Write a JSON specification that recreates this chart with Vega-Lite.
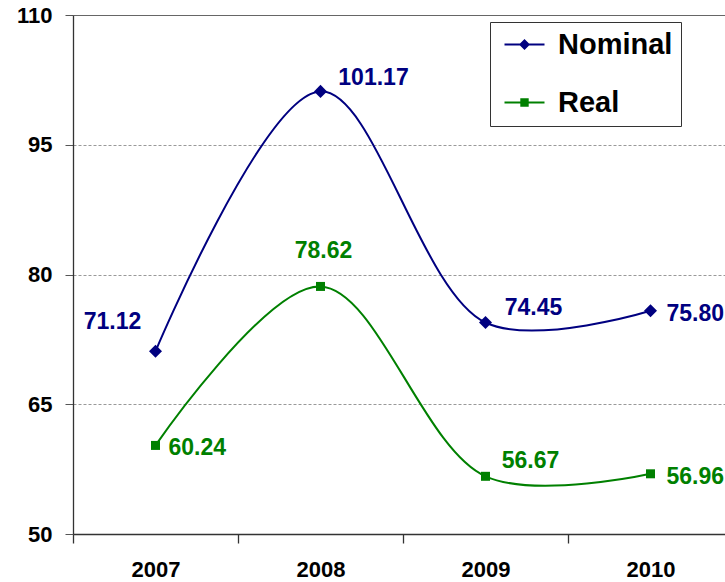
{
  "$schema": "https://vega.github.io/schema/vega-lite/v6.json",
  "width": 652,
  "height": 519,
  "autosize": {"type": "none"},
  "padding": {"left": 73, "top": 15, "right": 0, "bottom": 48},
  "background": "white",
  "config": {
    "view": {"stroke": null},
    "font": "Liberation Sans"
  },
  "data": {
    "values": [
      {"series": "Nominal", "year": "2007", "value": 71.12},
      {"series": "Nominal", "year": "2008", "value": 101.17},
      {"series": "Nominal", "year": "2009", "value": 74.45},
      {"series": "Nominal", "year": "2010", "value": 75.80},
      {"series": "Real", "year": "2007", "value": 60.24},
      {"series": "Real", "year": "2008", "value": 78.62},
      {"series": "Real", "year": "2009", "value": 56.67},
      {"series": "Real", "year": "2010", "value": 56.96}
    ]
  },
  "encoding": {
    "x": {
      "field": "year", "type": "ordinal",
      "scale": {"range": [0, 660], "paddingInner": 0, "paddingOuter": 0},
      "axis": {
        "title": null, "labelAngle": 0, "tickBand": "extent", "tickSize": 9,
        "labelPadding": 16, "domainColor": "#333", "tickColor": "#333",
        "labelFontSize": 22, "labelFontWeight": "bold", "labelColor": "black",
        "grid": false, "domainWidth": 1.3, "tickWidth": 1.3
      }
    },
    "y": {
      "field": "value", "type": "quantitative",
      "scale": {"domain": [50, 110], "nice": false, "zero": false},
      "axis": {
        "title": null, "values": [50, 65, 80, 95, 110], "tickSize": 8,
        "labelPadding": 13, "domainColor": "#333", "tickColor": "#555",
        "labelFontSize": 22, "labelFontWeight": "bold", "labelColor": "black",
        "grid": true, "gridColor": {"condition": {"test": "datum.value === 110", "value": "#666"}, "value": "#999"},
        "gridDash": {"condition": {"test": "datum.value === 110", "value": []}, "value": [3, 2]},
        "domainWidth": 1.3
      }
    }
  },
  "layer": [
    {
      "mark": {"type": "line", "interpolate": "catmull-rom", "strokeWidth": 2},
      "encoding": {
        "color": {"field": "series", "type": "nominal", "scale": {"domain": ["Nominal", "Real"], "range": ["#000080", "#008000"]}, "legend": null}
      }
    },
    {
      "transform": [{"filter": "datum.series === 'Nominal'"}],
      "mark": {"type": "point", "shape": "diamond", "filled": true, "size": 170, "opacity": 1, "color": "#000080"}
    },
    {
      "transform": [{"filter": "datum.series === 'Real'"}],
      "mark": {"type": "point", "shape": "square", "filled": true, "size": 81, "opacity": 1, "color": "#008000"}
    },
    {
      "mark": {"type": "point", "filled": true, "opacity": 0},
      "encoding": {
        "color": {
          "field": "series", "type": "nominal",
          "scale": {"domain": ["Nominal", "Real"], "range": ["#000080", "#008000"]},
          "legend": {
            "title": null, "orient": "none", "legendX": 417, "legendY": 7,
            "strokeColor": "#333", "fillColor": "white", "padding": 8,
            "symbolOffset": 12, "symbolSize": 400, "symbolOpacity": 1,
            "labelFontSize": 29, "labelFontWeight": "bold", "labelColor": "black",
            "labelOffset": 19, "rowPadding": 28, "labelExpr": "datum.label + '\u00a0\u00a0\u00a0\u00a0\u00a0\u00a0\u00a0\u00a0\u00a0\u00a0'",
            "labelLimit": 400
          }
        },
        "shape": {
          "field": "series", "type": "nominal",
          "scale": {"domain": ["Nominal", "Real"], "range": ["M-2,-0.1H2V0.1H-2Z M0,-0.55L0.55,0L0,0.55L-0.55,0Z", "M-2,-0.1H2V0.1H-2Z M-0.42,-0.42H0.42V0.42H-0.42Z"]},
          "legend": {
            "title": null, "orient": "none", "legendX": 417, "legendY": 7,
            "strokeColor": "#333", "fillColor": "white", "padding": 8,
            "symbolOffset": 12, "symbolSize": 400, "symbolOpacity": 1,
            "labelFontSize": 29, "labelFontWeight": "bold", "labelColor": "black",
            "labelOffset": 19, "rowPadding": 28, "labelExpr": "datum.label + '\u00a0\u00a0\u00a0\u00a0\u00a0\u00a0\u00a0\u00a0\u00a0\u00a0'",
            "labelLimit": 400
          }
        }
      }
    },
    {
      "transform": [{"filter": "datum.series === 'Nominal' && datum.year === '2007'"}],
      "mark": {"type": "text", "fontSize": 23, "fontWeight": "bold", "color": "#000080", "dx": -43, "dy": -29},
      "encoding": {"text": {"field": "value", "type": "quantitative", "format": ".2f"}}
    },
    {
      "transform": [{"filter": "datum.series === 'Nominal' && datum.year === '2008'"}],
      "mark": {"type": "text", "fontSize": 23, "fontWeight": "bold", "color": "#000080", "dx": 53, "dy": -13},
      "encoding": {"text": {"field": "value", "type": "quantitative", "format": ".2f"}}
    },
    {
      "transform": [{"filter": "datum.series === 'Nominal' && datum.year === '2009'"}],
      "mark": {"type": "text", "fontSize": 23, "fontWeight": "bold", "color": "#000080", "dx": 48, "dy": -15},
      "encoding": {"text": {"field": "value", "type": "quantitative", "format": ".2f"}}
    },
    {
      "transform": [{"filter": "datum.series === 'Nominal' && datum.year === '2010'"}],
      "mark": {"type": "text", "fontSize": 23, "fontWeight": "bold", "color": "#000080", "align": "left", "dx": 16, "dy": 3},
      "encoding": {"text": {"field": "value", "type": "quantitative", "format": ".2f"}}
    },
    {
      "transform": [{"filter": "datum.series === 'Real' && datum.year === '2007'"}],
      "mark": {"type": "text", "fontSize": 23, "fontWeight": "bold", "color": "#008000", "align": "left", "dx": 13, "dy": 3},
      "encoding": {"text": {"field": "value", "type": "quantitative", "format": ".2f"}}
    },
    {
      "transform": [{"filter": "datum.series === 'Real' && datum.year === '2008'"}],
      "mark": {"type": "text", "fontSize": 23, "fontWeight": "bold", "color": "#008000", "dx": 3, "dy": -35},
      "encoding": {"text": {"field": "value", "type": "quantitative", "format": ".2f"}}
    },
    {
      "transform": [{"filter": "datum.series === 'Real' && datum.year === '2009'"}],
      "mark": {"type": "text", "fontSize": 23, "fontWeight": "bold", "color": "#008000", "dx": 45, "dy": -15},
      "encoding": {"text": {"field": "value", "type": "quantitative", "format": ".2f"}}
    },
    {
      "transform": [{"filter": "datum.series === 'Real' && datum.year === '2010'"}],
      "mark": {"type": "text", "fontSize": 23, "fontWeight": "bold", "color": "#008000", "align": "left", "dx": 16, "dy": 3},
      "encoding": {"text": {"field": "value", "type": "quantitative", "format": ".2f"}}
    }
  ],
  "resolve": {"scale": {"shape": "independent", "color": "independent"}}
}
